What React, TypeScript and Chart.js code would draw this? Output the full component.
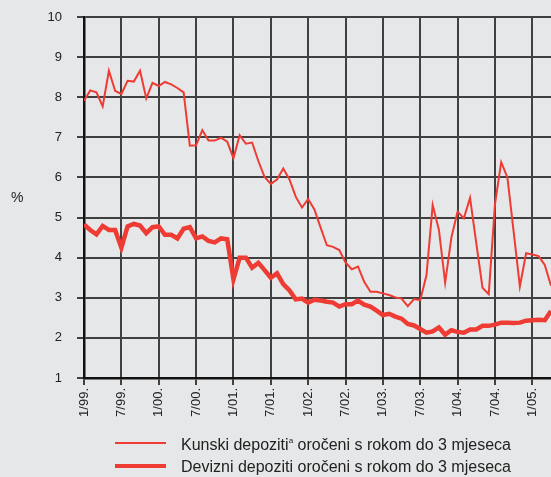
import React, { useEffect, useRef } from "react";
import { Chart, registerables } from "chart.js";

Chart.register(...registerables);

// Monthly, 1/99 .. 4/05
const tickLabels = ["1/99.", "7/99.", "1/00.", "7/00.", "1/01.", "7/01.", "1/02.", "7/02.", "1/03.", "7/03.", "1/04.", "7/04.", "1/05."];

const kunaDeposits = [
  7.91, 8.17, 8.12, 7.77, 8.66, 8.16, 8.08, 8.41, 8.39, 8.66, 7.97, 8.36,
  8.28, 8.38, 8.32, 8.23, 8.12, 6.79, 6.80, 7.18, 6.92, 6.92, 6.99, 6.89,
  6.48, 7.05, 6.84, 6.87, 6.41, 6.01, 5.84, 5.95, 6.22, 5.95, 5.52, 5.25,
  5.46, 5.20, 4.75, 4.31, 4.27, 4.19, 3.88, 3.71, 3.78, 3.40, 3.15, 3.15,
  3.11, 3.07, 3.01, 2.98, 2.79, 2.97, 2.94, 3.56, 5.31, 4.69, 3.38, 4.50,
  5.15, 4.98, 5.49, 4.36, 3.25, 3.09, 5.33, 6.38, 6.00, 4.65, 3.28, 4.11,
  4.08, 4.04, 3.82, 3.30
];

const foreignDeposits = [
  4.83, 4.69, 4.58, 4.79, 4.69, 4.69, 4.25, 4.78, 4.84, 4.80, 4.61, 4.76,
  4.78, 4.57, 4.57, 4.48, 4.72, 4.76, 4.48, 4.53, 4.42, 4.38, 4.48, 4.46,
  3.46, 4.00, 4.00, 3.75, 3.87, 3.69, 3.50, 3.61, 3.34, 3.18, 2.96, 2.98,
  2.88, 2.95, 2.93, 2.90, 2.88, 2.78, 2.84, 2.84, 2.93, 2.83, 2.78, 2.68,
  2.57, 2.60, 2.53, 2.48, 2.35, 2.31, 2.22, 2.13, 2.16, 2.26, 2.08, 2.19,
  2.15, 2.13, 2.21, 2.21, 2.30, 2.30, 2.33, 2.38, 2.38, 2.37, 2.38, 2.43,
  2.44, 2.45, 2.44, 2.67
];

const legendKuna = "Kunski depoziti";
const legendKunaRest = " oročeni s rokom do 3 mjeseca";
const legendForeign = "Devizni depoziti oročeni s rokom do 3 mjeseca";

const RED = "#ee3b33";
const BG = "#e6e7e8";
const GRID = "#404040";
const AXIS = "#111111";
const FONT = "'Liberation Sans', Arial, Helvetica, sans-serif";
const TICK_LEN = 7;
const TARGET_TOP = 17;

const bgPlugin = {
  id: "bgFill",
  beforeDraw(chart: any) {
    const { ctx, width, height } = chart;
    ctx.save();
    ctx.fillStyle = BG;
    ctx.fillRect(0, 0, width, height);
    ctx.restore();
  },
};

export default function App() {
  const ref = useRef<HTMLCanvasElement | null>(null);

  useEffect(() => {
    const prevMargin = document.body.style.margin;
    document.body.style.margin = "0";
    const canvas = ref.current;
    if (!canvas) return;
    const chart = new Chart(canvas, {
      type: "line",
      data: {
        datasets: [
          {
            label: "kuna",
            data: kunaDeposits.map((v, i) => ({ x: i, y: v })),
            borderColor: RED,
            borderWidth: 2,
            pointRadius: 0,
            tension: 0,
            fill: false,
          },
          {
            label: "foreign",
            data: foreignDeposits.map((v, i) => ({ x: i, y: v })),
            borderColor: RED,
            borderWidth: 4.5,
            pointRadius: 0,
            tension: 0,
            fill: false,
          },
        ],
      },
      options: {
        animation: false,
        responsive: false,
        maintainAspectRatio: false,
        layout: { padding: { top: TARGET_TOP, right: 0, bottom: 0, left: 0 } },
        plugins: {
          legend: { display: false },
          tooltip: { enabled: false },
        },
        scales: {
          x: {
            type: "linear",
            min: 0,
            max: kunaDeposits.length - 1,
            grid: { display: true, color: GRID, lineWidth: 2, drawTicks: true, tickLength: TICK_LEN },
            border: { display: true, color: AXIS, width: 2.5 },
            ticks: {
              stepSize: 6,
              includeBounds: false,
              autoSkip: false,
              maxRotation: 90,
              minRotation: 90,
              padding: 3,
              color: "#222",
              font: { family: FONT, size: 13 },
              callback: (v: any) => {
                const idx = Math.round(Number(v) / 6);
                return Number(v) % 6 === 0 ? tickLabels[idx] ?? "" : "";
              },
            },
            afterFit: (s: any) => {
              s.height = 99;
              s.paddingRight = 0;
            },
          },
          y: {
            type: "linear",
            min: 1,
            max: 10,
            grid: { display: true, color: GRID, lineWidth: 2, drawTicks: true, tickLength: TICK_LEN },
            border: { display: true, color: AXIS, width: 2.5 },
            ticks: {
              stepSize: 1,
              padding: 15,
              color: "#222",
              font: { family: FONT, size: 13 },
            },
            afterFit: (s: any) => {
              s.width = 84;
              s.paddingTop = 0;
              s.paddingBottom = 0;
            },
          },
        },
      },
      plugins: [bgPlugin],
    });
    // fine-tune top padding so the plot area starts where the reference's does
    for (let k = 0; k < 2; k++) {
      const diff = TARGET_TOP - chart.chartArea.top;
      if (Math.abs(diff) < 0.5) break;
      const pad: any = (chart.config as any).options.layout.padding;
      pad.top = Math.max(0, pad.top + diff);
      chart.update();
    }
    return () => {
      chart.destroy();
      document.body.style.margin = prevMargin;
    };
  }, []);

  return (
    <div
      style={{
        position: "fixed",
        left: 0,
        top: 0,
        width: 551,
        height: 477,
        background: BG,
        overflow: "hidden",
        fontFamily: FONT,
        color: "#222",
      }}
    >
      <canvas ref={ref} width={551} height={477} style={{ position: "absolute", left: 0, top: 0, width: 551, height: 477 }} />
      <div style={{ position: "absolute", left: 11, top: 188, fontSize: 14, lineHeight: "18px" }}>%</div>
      <div style={{ position: "absolute", left: 115, top: 442, width: 51, height: 1.5, background: RED }} />
      <div style={{ position: "absolute", left: 115, top: 464, width: 51, height: 4, background: RED }} />
      <div style={{ position: "absolute", left: 181, top: 436, fontSize: 16, lineHeight: "18px", whiteSpace: "nowrap" }}>
        {legendKuna}
        <sup style={{ fontSize: 8, verticalAlign: "top", lineHeight: "8px", position: "relative", top: 1 }}>a</sup>
        {legendKunaRest}
      </div>
      <div style={{ position: "absolute", left: 181, top: 458, fontSize: 16, lineHeight: "18px", whiteSpace: "nowrap" }}>
        {legendForeign}
      </div>
    </div>
  );
}
